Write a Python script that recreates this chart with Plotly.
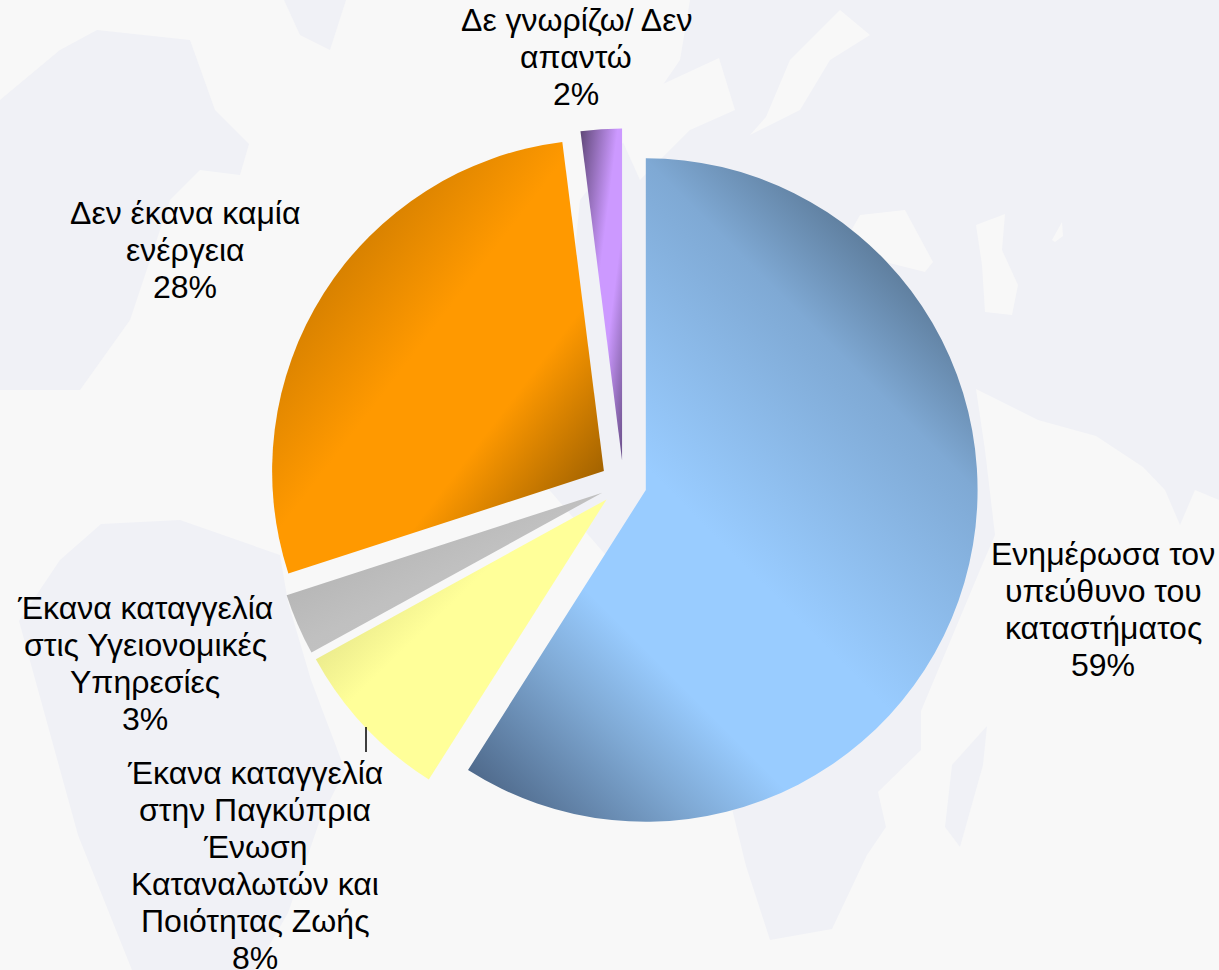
import json
import plotly.graph_objects as go

W, H = 1219, 970

labels = [["Ενημέρωσα τον", "υπεύθυνο του", "καταστήματος"],
          ["Έκανα καταγγελία", "στην Παγκύπρια", "Ένωση", "Καταναλωτών και", "Ποιότητας Ζωής"],
          ["Έκανα καταγγελία", "στις Υγειονομικές", "Υπηρεσίες"],
          ["Δεν έκανα καμία", "ενέργεια"],
          ["Δε γνωρίζω/ Δεν", "απαντώ"]]
values = [59, 8, 3, 28, 2]
colors = ["#99ccff", "#ffff99", "#c0c0c0", "#ff9900", "#cc99ff"]
dark_start = ["#4d6788", "#d5d57f", "#a8a8a8", "#c07300", "#5f4777"]
dark_end = ["#5a7896", "#e0e088", "#c8c8c8", "#7a4b00", "#6a4f88"]
label_x = [1103, 255, 145, 185, 576]
label_top_y = [554, 773, 608, 213, 20]
LINE_GAP = 36.9

LAND = "#f0f1f6"
SEA = "#f8f8f8"

land_polys = [
    [(0, 100), (60, 50), (97, 30), (190, 40), (215, 110), (249, 144), (240, 175), (200, 170),
     (170, 200), (130, 320), (80, 390), (0, 390)],
    [(284, 0), (346, 0), (330, 50), (300, 35)],
    [(101, 524), (180, 520), (280, 555), (288, 602), (311, 680), (345, 770), (320, 820), (288, 913),
     (255, 970), (132, 970), (78, 835), (19, 621), (60, 560)],
    [(690, 0), (1219, 0), (1219, 500), (1195, 490), (1180, 525), (1165, 490), (1143, 467), (1096, 436),
     (1038, 420), (976, 389), (985, 450), (995, 535), (980, 570), (921, 711), (921, 750), (878, 792),
     (886, 827), (867, 855), (832, 929), (770, 940), (746, 866), (720, 760), (660, 600), (610, 560),
     (545, 485), (560, 400), (580, 200), (625, 140), (680, 60)],
    [(987, 726), (983, 765), (960, 847), (945, 827), (952, 765)],
]
sea_polys = [
    [(840, 250), (860, 215), (905, 210), (933, 262), (925, 272), (885, 262), (850, 275)],
    [(976, 225), (1005, 214), (1002, 250), (1018, 285), (1012, 315), (985, 312), (982, 265)],
    [(1052, 240), (1062, 222), (1063, 236), (1055, 242)],
    [(766, 117), (790, 60), (840, 10), (870, 35), (830, 60), (800, 110), (750, 135)],
    [(622, 140), (650, 90), (719, 58), (735, 110), (690, 130), (640, 180)],
]


def poly_path(points):
    parts = [f"{x / W:.5f},{1 - y / H:.5f}" for x, y in points]
    return "M" + "L".join(parts) + "Z"


shapes = [dict(type="path", xref="paper", yref="paper", path=poly_path(p), fillcolor=LAND,
               line=dict(width=0), layer="below") for p in land_polys]
shapes += [dict(type="path", xref="paper", yref="paper", path=poly_path(p), fillcolor=SEA,
                line=dict(width=0), layer="below") for p in sea_polys]
shapes.append(dict(type="line", xref="paper", yref="paper", x0=366 / W, x1=366 / W,
                   y0=1 - 727 / H, y1=1 - 752 / H, line=dict(color="#000000", width=1.5)))

fig = go.Figure(go.Pie(
    labels=[" ".join(t) for t in labels],
    values=values,
    sort=False,
    direction="clockwise",
    rotation=0,
    pull=0.07,
    textinfo="none",
    hoverinfo="label+percent",
    marker=dict(colors=colors, line=dict(width=0)),
    domain=dict(x=[268.5 / W, 978.5 / W], y=[1 - 838.5 / H, 1 - 128.5 / H]),
    showlegend=False,
))

annotations = []
for lines, v, x, top in zip(labels, values, label_x, label_top_y):
    for i, line in enumerate(lines + [f"{v}%"]):
        annotations.append(dict(
            text=line, x=x / W, y=1 - (top + i * LINE_GAP) / H, xref="paper", yref="paper",
            xanchor="center", yanchor="middle", showarrow=False, align="center",
            font=dict(family="Liberation Sans, Arial, sans-serif", size=32, color="#000000")))

fig.update_layout(width=W, height=H, margin=dict(l=0, r=0, t=0, b=0), paper_bgcolor=SEA,
                  plot_bgcolor=SEA, shapes=shapes, annotations=annotations)

# Gradient shading of the slices Plotly has drawn (SVG gradients, no geometry typed here).
grad_js = """
var gd = document.getElementById('{plot_id}');
document.body.style.margin = '0';
var cfg = %s;
function paint() {
  var svg = gd.querySelector('svg.main-svg');
  var ns = 'http://www.w3.org/2000/svg';
  var defs = svg.querySelector('defs');
  gd.querySelectorAll('.slice path.surface').forEach(function (p, i) {
    var c = cfg[i], id = 'slicegrad' + i;
    var old = document.getElementById(id);
    if (old) old.remove();
    var g = document.createElementNS(ns, 'linearGradient');
    g.setAttribute('id', id);
    if (c.offset) {
      var b = p.getBBox(), mx = b.x + b.width / 2, my = b.y + b.height / 2;
      g.setAttribute('gradientUnits', 'userSpaceOnUse');
      g.setAttribute('x1', mx + c.offset[0]); g.setAttribute('y1', my + c.offset[1]);
      g.setAttribute('x2', mx + c.offset[2]); g.setAttribute('y2', my + c.offset[3]);
    } else {
      g.setAttribute('x1', 0); g.setAttribute('y1', 0);
      g.setAttribute('x2', 1); g.setAttribute('y2', 1);
    }
    c.stops.forEach(function (s) {
      var st = document.createElementNS(ns, 'stop');
      st.setAttribute('offset', s[0]); st.setAttribute('stop-color', s[1]);
      g.appendChild(st);
    });
    defs.appendChild(g);
    p.style.fill = 'url(#' + id + ')';
  });
}
paint();
gd.on('plotly_afterplot', paint);
"""
cfg = [
    dict(offset=[-311, 233, 169, -247],
         stops=[[0, dark_start[0]], [0.2, "#7fa9d4"], [0.32, colors[0]], [0.51, colors[0]],
                [0.83, "#7fa9d4"], [1, dark_end[0]]]),
    dict(stops=[[0.12, dark_start[1]], [0.42, colors[1]], [0.68, colors[1]], [0.95, dark_end[1]]]),
    dict(stops=[[0, dark_start[2]], [0.5, colors[2]], [1, dark_end[2]]]),
    dict(stops=[[0.12, dark_start[3]], [0.46, colors[3]], [0.66, colors[3]], [0.98, dark_end[3]]]),
    dict(stops=[[0, dark_start[4]], [0.45, colors[4]], [0.65, colors[4]], [1, dark_end[4]]]),
]

fig.write_html("out.html", post_script=grad_js % json.dumps(cfg),
               config=dict(displayModeBar=False))
